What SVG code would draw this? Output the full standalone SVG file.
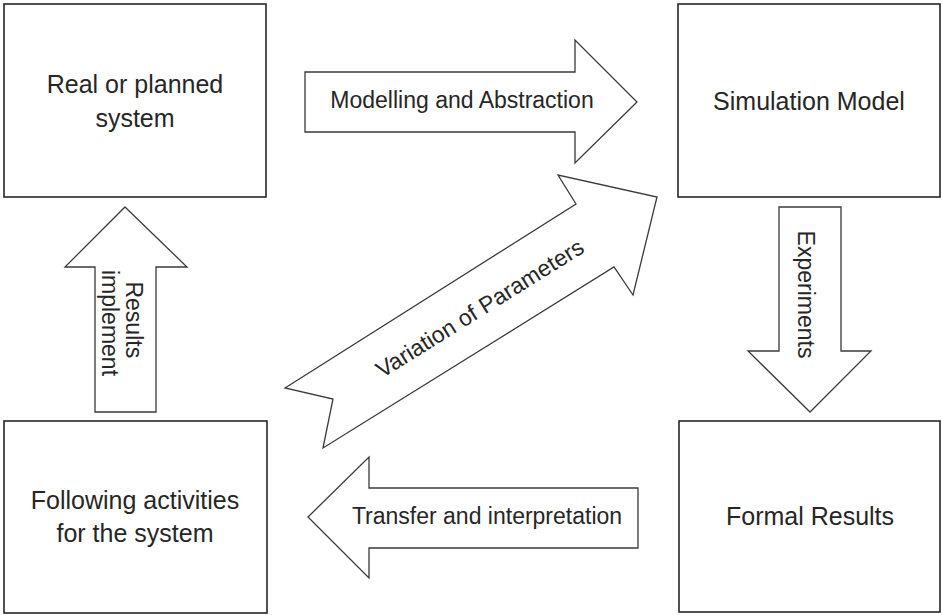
<svg xmlns="http://www.w3.org/2000/svg" width="942" height="615" viewBox="0 0 942 615">
  <style>
    .box { fill: #ffffff; stroke: #262626; stroke-width: 1.6; }
    .arrow { fill: #ffffff; stroke: #3a3a3a; stroke-width: 1.3; stroke-linejoin: miter; }
    .lbl { font-family: "Liberation Sans", Arial, sans-serif; fill: #262626; text-anchor: middle; }
    .big { font-size: 25px; }
    .small { font-size: 23px; }
  </style>
  <rect width="942" height="615" fill="#ffffff"/>

  <!-- block arrows between the stages -->
  <g id="connectors">
    <g id="arrow-modelling">
      <polygon class="arrow" points="305,72 575,72 575,40 637,102 575,163 575,132 305,132"/>
      <text class="lbl small" x="462" y="108">Modelling and Abstraction</text>
    </g>
    <g id="arrow-experiments">
      <polygon class="arrow" points="779,207 841,207 841,351 871,351 810,412 748,351 779,351"/>
      <text class="lbl small" transform="translate(798,294.5) rotate(90)">Experiments</text>
    </g>
    <g id="arrow-transfer">
      <polygon class="arrow" points="638,488 638,548 369,548 369,578 308,517 369,457 369,488"/>
      <text class="lbl small" x="487" y="524">Transfer and interpretation</text>
    </g>
    <g id="arrow-results">
      <polygon class="arrow" points="125,207 187,267 156,267 156,412 95,412 95,267 65,267"/>
      <text class="lbl small" transform="translate(126,323) rotate(90)">
        <tspan x="0" y="0">Results</tspan>
        <tspan x="0" y="24">implement</tspan>
      </text>
    </g>
    <g id="arrow-variation">
      <polygon class="arrow" points="285,388 576,204 558,175 657,197 633,295 614,267 323,448 333,399"/>
      <text class="lbl small" transform="translate(484,315) rotate(-32)">Variation of Parameters</text>
    </g>
  </g>

  <!-- stages -->
  <g id="node-real-system">
    <rect class="box" x="4" y="4" width="262" height="193"/>
    <text class="lbl big" x="135" y="93">Real or planned</text>
    <text class="lbl big" x="135" y="127">system</text>
  </g>
  <g id="node-simulation-model">
    <rect class="box" x="678" y="4" width="262" height="193"/>
    <text class="lbl big" x="809" y="110">Simulation Model</text>
  </g>
  <g id="node-formal-results">
    <rect class="box" x="679" y="421" width="261" height="191"/>
    <text class="lbl big" x="810" y="525">Formal Results</text>
  </g>
  <g id="node-following-activities">
    <rect class="box" x="4" y="421" width="263" height="192"/>
    <text class="lbl big" x="135" y="509">Following activities</text>
    <text class="lbl big" x="135" y="542">for the system</text>
  </g>
</svg>
